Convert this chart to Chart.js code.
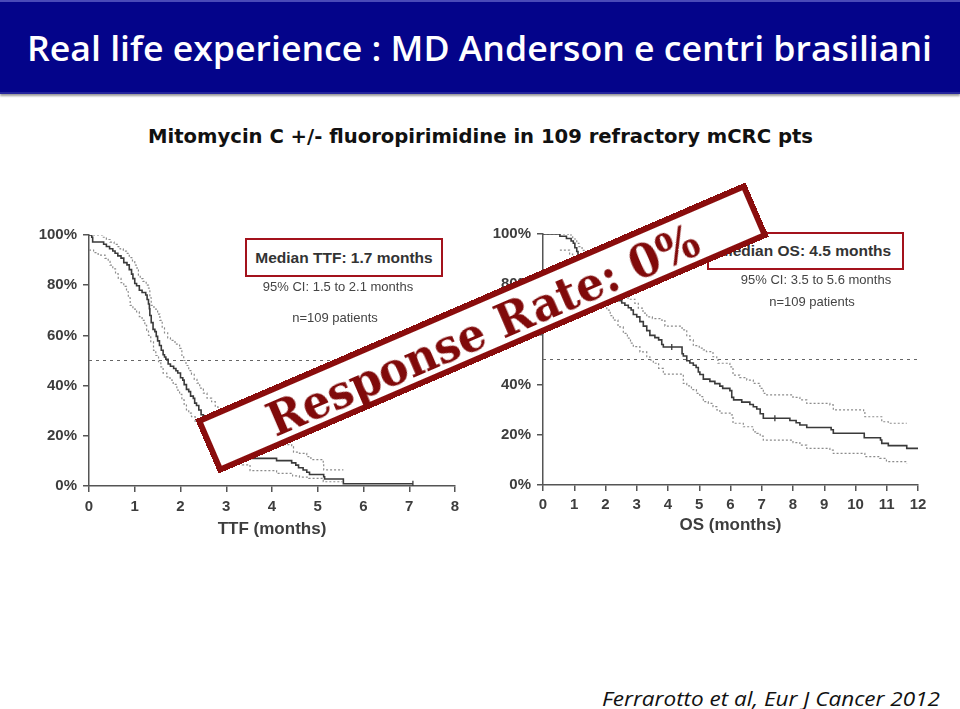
<!DOCTYPE html>
<html><head><meta charset="utf-8">
<script src="https://cdn.jsdelivr.net/npm/chart.js@4.4.1/dist/chart.umd.min.js"></script>
<style>
html,body{margin:0;padding:0;background:#fff;width:960px;height:709px;overflow:hidden;position:relative;font-family:"Liberation Sans",Arial,sans-serif}
#hdr{position:absolute;left:0;top:0;width:960px;height:94px;background:#04048a;border-top:2px solid #4a4ab8;border-bottom:2px solid #25259c;box-sizing:border-box;box-shadow:0 2px 2px #9a9a9a}
.fit{position:absolute;white-space:nowrap;transform-origin:0 50%;line-height:1}
#title{left:27px;top:30px;font-family:"Open Sans",sans-serif;font-weight:600;font-size:35px;color:#fff}
#sub{left:148px;top:127px;font-family:"DejaVu Sans",sans-serif;font-weight:bold;font-size:19px;color:#111}
#foot{left:602px;top:689px;font-family:"Open Sans",sans-serif;font-style:italic;font-size:20px;color:#111}
canvas{position:absolute}
#c1{left:20px;top:215px}
#c2{left:475px;top:214px}
.box{position:absolute;border:2.5px solid #a3121c;box-sizing:border-box;display:flex;align-items:center;justify-content:center;font-weight:bold;font-size:15.5px;color:#333;background:#fff}
.note{position:absolute;transform:translate(-50%,-50%);white-space:nowrap;font-size:13px;color:#444}
#stamp{position:absolute;left:481.5px;top:328px;width:599px;height:59px;box-sizing:border-box;border:6px solid #8a0d0d;background:#fff;transform:translate(-50%,-50%) rotate(-23.3deg);display:flex;align-items:center;justify-content:center;overflow:visible}
#stampTxt{font-family:"DejaVu Serif",serif;font-weight:bold;font-size:46px;color:#800a0a;white-space:nowrap;line-height:1;display:inline-block;transform-origin:50% 50%;margin-top:4px}
</style></head><body>
<div id="hdr"></div>
<div id="title" class="fit">Real life experience : MD Anderson e centri brasiliani</div>
<div id="sub" class="fit">Mitomycin C +/- fluoropirimidine in 109 refractory mCRC pts</div>
<canvas id="c1" width="450" height="330"></canvas>
<canvas id="c2" width="470" height="330"></canvas>
<div class="box" style="left:245px;top:238px;width:198px;height:39px">Median TTF: 1.7 months</div>
<div class="note" style="left:338px;top:286px">95% CI: 1.5 to 2.1 months</div>
<div class="note" style="left:335px;top:317px">n=109 patients</div>
<div class="box" style="left:707px;top:232px;width:197px;height:38px">Median OS: 4.5 months</div>
<div class="note" style="left:816px;top:279px">95% CI: 3.5 to 5.6 months</div>
<div class="note" style="left:812px;top:301px">n=109 patients</div>
<div id="stamp"><span id="stampTxt">Response Rate: 0%</span></div>
<div id="foot" class="fit">Ferrarotto et al, Eur J Cancer 2012</div>
<script>
// ---------- Left panel: TTF ----------
const ttfTicksX = [0,1,2,3,4,5,6,7,8];
const ttfTime = [0,0.06,0.08,0.32,0.38,0.45,0.52,0.57,0.63,0.70,0.76,0.83,0.88,0.93,0.96,1.00,1.04,1.10,1.16,1.24,1.27,1.30,1.32,1.33,1.36,1.40,1.44,1.47,1.50,1.54,1.58,1.62,1.65,1.68,1.73,1.78,1.85,1.90,1.94,2.00,2.05,2.08,2.13,2.18,2.22,2.28,2.31,2.35,2.40,2.45,2.50,2.58,2.65,2.72,2.80,2.88,2.96,3.05,3.15,3.25,3.40,3.55,4.10,4.43,4.52,4.58,4.68,4.76,4.82,5.13,5.15,5.56,7.08];
const ttfSurv = [100,99.1,97.2,96.3,95.4,94.5,93.6,92.7,91.7,90.8,89.0,88.1,86.2,84.4,82.6,80.7,79.8,78.0,77.1,76.1,74.3,72.5,70.6,67.9,65.1,62.4,61.5,59.6,57.8,56.0,54.1,52.3,51.4,50.5,48.6,47.7,46.8,45.9,45.0,43.1,42.2,40.4,38.5,37.6,35.8,34.9,33.0,32.1,30.3,28.4,27.5,25.7,23.9,22.0,20.2,18.3,16.5,15.6,13.8,12.8,11.9,11.0,10.1,9.2,8.3,7.3,6.4,5.5,4.6,3.7,2.8,0.9,0.9];
const ttfUpTime = [0,0.30,0.38,0.46,0.55,0.62,0.68,0.75,0.82,0.88,0.95,1.00,1.05,1.08,1.12,1.18,1.25,1.30,1.33,1.36,1.42,1.50,1.55,1.60,1.65,1.72,1.78,1.88,1.98,2.03,2.07,2.12,2.18,2.24,2.30,2.36,2.42,2.50,2.58,2.68,2.76,2.82,2.90,3.00,3.10,3.25,3.40,3.60,3.80,4.00,4.20,4.43,4.47,4.60,4.76,4.85,5.12,5.13,5.56];
const ttfUpSurv = [100,99.1,98.2,97.2,96.3,95.4,94.5,93.6,92.7,91.0,89.4,88.0,86.0,84.0,82.6,81.5,80.0,78.8,75.0,72.0,70.5,68.5,66.0,63.0,61.0,59.0,58.0,56.5,54.8,52.0,50.0,48.0,46.0,44.5,42.5,41.0,39.0,37.0,35.0,33.6,31.5,30.0,28.0,26.0,24.0,22.0,20.5,19.0,18.0,17.0,16.5,15.7,13.5,13.0,11.7,10.5,9.0,6.4,6.4];
const ttfLoTime = [0,0.10,0.20,0.35,0.42,0.46,0.52,0.58,0.64,0.70,0.76,0.82,0.86,0.90,0.96,1.04,1.10,1.16,1.22,1.26,1.30,1.35,1.41,1.46,1.52,1.57,1.62,1.70,1.77,1.84,1.92,1.98,2.03,2.08,2.13,2.18,2.24,2.32,2.42,2.52,2.62,2.72,2.85,3.00,3.12,3.25,3.35,3.52,4.10,4.45,4.60,4.80,5.12,5.54];
const ttfLoSurv = [94,93,92,90.7,89.5,88,86.5,84.5,82.7,81,79.5,77.4,75,72,70.5,69.4,67.5,66,64,62,60,57.5,54,52,49.5,47.5,45,43.5,42.2,40.5,38.2,36.5,34.3,32.5,30.3,29,27.6,25.5,23.5,21.5,19.5,17.5,15.5,13.5,11.5,9.5,8.4,6.1,5.0,4.0,3.5,3.0,1.7,1.7];
const ttfCensT = [7.08];
const ttfCensS = [0.9];

// ---------- Right panel: OS ----------
const osTicksX = [0,1,2,3,4,5,6,7,8,9,10,11,12];
const osTime = [0,0.54,0.75,0.90,0.97,1.02,1.08,1.12,1.20,1.28,1.38,1.48,1.58,1.68,1.80,1.92,2.05,2.18,2.30,2.40,2.52,2.62,2.73,2.82,2.89,3.00,3.10,3.21,3.32,3.42,3.58,3.70,3.80,3.85,4.45,4.49,4.60,4.70,4.81,4.90,4.97,5.02,5.13,5.34,5.50,5.66,5.75,5.98,6.04,6.10,6.36,6.62,6.73,6.84,6.95,7.05,7.90,8.10,8.22,8.44,9.22,9.29,10.28,10.80,10.84,11.05,11.64,12.0];
const osSurv = [100,99.1,98.2,97.2,96.3,94.5,93.0,91.7,89.9,88.1,86.2,84.4,83.5,81.7,79.8,78.9,77.1,76.1,75.2,73.4,72.5,71.6,70.6,69.7,67.9,67.0,65.1,63.3,61.5,59.6,58.7,57.8,56.0,55.0,52.3,51.4,49.5,48.6,47.7,46.8,45.0,44.0,42.2,41.3,40.4,39.4,38.5,37.6,34.9,33.9,33.0,32.1,31.2,30.3,28.4,26.6,25.7,24.8,23.9,22.9,22.0,20.6,18.8,17.9,16.6,15.7,14.6,14.6];
const osUpTime = [0,0.81,0.95,1.08,1.15,1.25,1.35,1.45,1.60,1.75,1.90,2.05,2.20,2.35,2.45,2.57,2.72,2.94,3.05,3.20,3.32,3.50,3.74,3.90,4.45,4.60,4.70,4.81,5.00,5.13,5.23,5.44,5.56,5.60,5.98,6.08,6.30,6.52,6.73,6.94,7.05,7.10,8.00,8.22,8.44,9.18,9.29,10.26,10.30,10.84,11.05,11.64];
const osUpSurv = [100,99.6,98.0,96.3,95,93.5,92,90.5,89,87.5,85.5,83.5,81.5,79,77,75,74,72.4,70.5,68.5,67,66.3,65.7,63.3,61.8,59.5,57.8,55.5,54.5,53.8,53.1,51.1,49.8,48.5,47.1,43.8,42.8,41.8,40.5,38.5,36.5,35.9,34.9,33.9,32.5,31.9,29.9,29.2,27.2,25.2,24.6,24.6];
const osLoTime = [0.54,0.85,0.95,1.05,1.15,1.25,1.35,1.45,1.55,1.65,1.75,1.85,1.95,2.04,2.15,2.25,2.40,2.57,2.70,2.80,2.89,3.10,3.32,3.42,3.53,3.70,3.85,4.49,4.60,4.75,4.91,5.02,5.13,5.29,5.44,5.56,5.66,6.03,6.08,6.41,6.73,6.84,6.95,7.05,8.00,8.22,8.44,9.18,9.29,10.30,10.78,10.99,11.64];
const osLoSurv = [93.6,92.0,90.0,88.0,86,84,82,80.5,79,77.5,75.5,73.5,71.5,69.7,67.5,65.7,63.0,60.4,58.5,56.5,55.1,53.0,51.1,49.8,48.5,46.5,44.2,40.5,39.5,38.0,36.5,35.2,33.2,32.5,31.2,29.9,28.6,27.9,24.6,23.2,21.2,20.6,19.5,17.9,16.9,15.9,14.6,13.9,12.6,11.3,10.6,9.3,8.6];
const osCensT = [4.12,7.42];
const osCensS = [55.0,26.6];

const yTicks = [0,20,40,60,80,100];
const medianLevel = 50;

function pts(t, s){ return t.map((x,i)=>({x:x, y:s[i]})); }

const tickFont = {family:'"Liberation Sans", Arial, sans-serif', weight:'bold', size:15};
const titleFont = {family:'"Liberation Sans", Arial, sans-serif', weight:'bold', size:17};

function build(id, p){
  const ds = [
    {data:[{x:0,y:medianLevel},{x:p.xmax,y:medianLevel}], borderColor:'#666', borderWidth:1, borderDash:[3,4], pointRadius:0, fill:false, order:5},
    {data:pts(p.upT,p.upS), stepped:'before', borderColor:'#8c8c8c', borderWidth:1.2, borderDash:[2,2], pointRadius:0, fill:false, order:4},
    {data:pts(p.loT,p.loS), stepped:'before', borderColor:'#8c8c8c', borderWidth:1.2, borderDash:[2,2], pointRadius:0, fill:false, order:3},
    {data:pts(p.t,p.s), stepped:'before', borderColor:'#3a3a3a', borderWidth:1.6, pointRadius:0, fill:false, order:2},
    {data:pts(p.cT,p.cS), showLine:false, pointStyle:'line', rotation:90, pointRadius:3, borderColor:'#3a3a3a', borderWidth:1.3, order:1}
  ];
  return new Chart(document.getElementById(id), {
    type:'line',
    data:{datasets:ds},
    options:{
      responsive:false, animation:false, events:[],
      layout:{padding:{left:0, top:20, right:p.padR, bottom:0}},
      plugins:{legend:{display:false}, tooltip:{enabled:false}, title:{display:false}},
      scales:{
        x:{type:'linear', min:0, max:p.xmax,
          afterFit:(s)=>{s.height=p.xh;},
          afterBuildTicks:(s)=>{s.ticks=p.xticks.map(v=>({value:v}));},
          border:{display:true, color:'#555', width:1.5},
          grid:{display:true, drawOnChartArea:false, drawTicks:true, tickLength:6, color:'#555', lineWidth:1.5},
          ticks:{padding:p.xpad, color:'#3d3d3d', font:tickFont, maxRotation:0, autoSkip:false},
          title:{display:true, text:p.xtitle, color:'#3d3d3d', font:titleFont, padding:{top:0,bottom:p.tpad}}
        },
        y:{type:'linear', min:0, max:100,
          afterFit:(s)=>{s.width=p.yw;},
          afterBuildTicks:(s)=>{s.ticks=yTicks.map(v=>({value:v}));},
          border:{display:true, color:'#555', width:1.5},
          grid:{display:true, drawOnChartArea:false, drawTicks:true, tickLength:6, color:'#555', lineWidth:1.5},
          ticks:{padding:6, color:'#3d3d3d', font:tickFont, callback:(v)=>v+'%'}
        }
      }
    }
  });
}

build('c1', {t:ttfTime, s:ttfSurv, upT:ttfUpTime, upS:ttfUpSurv, loT:ttfLoTime, loS:ttfLoSurv, cT:ttfCensT, cS:ttfCensS,
  xmax:8, xticks:ttfTicksX, xtitle:'TTF (months)', padR:15, xh:59, yw:69, xpad:6, tpad:5});
build('c2', {t:osTime, s:osSurv, upT:osUpTime, upS:osUpSurv, loT:osLoTime, loS:osLoSurv, cT:osCensT, cS:osCensS,
  xmax:12, xticks:osTicksX, xtitle:'OS (months)', padR:27, xh:59, yw:68, xpad:5, tpad:8});

function fit(id, w){
  const el = document.getElementById(id);
  const cw = el.getBoundingClientRect().width;
  el.style.transform = 'scaleX(' + (w/cw) + ')';
}
fit('title', 905);
fit('sub', 665);
fit('foot', 338);
(function(){
  const el = document.getElementById('stampTxt');
  const cw = el.getBoundingClientRect().width;
  el.style.transform = 'scaleX(' + (445/cw) + ')';
})();
</script>
</body></html>
